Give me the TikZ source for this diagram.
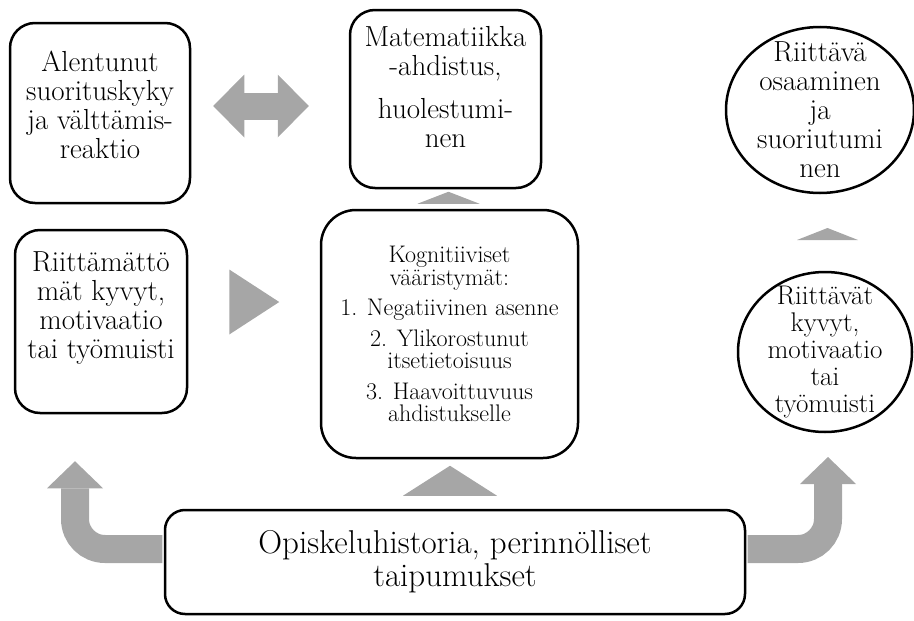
\documentclass[tikz,border=0pt]{standalone}
\usetikzlibrary{arrows.meta,calc}
\definecolor{arrowgray}{RGB}{166,166,166}
\begin{document}
\begin{tikzpicture}[
	x=1pt, y=-1pt,
	every node/.style={align=center, inner sep=0pt, font=\fontsize{29}{29}\selectfont},
	box/.style={draw=black, line width=2.5pt, rounded corners=25pt},
	oval/.style={draw=black, line width=2.5pt},
	fat/.style={draw=arrowgray, line width=28pt, rounded corners=30pt},
	head/.style={fill=arrowgray},
	>={Triangle[width=56pt, length=27pt, line width=0pt]},
]
\useasboundingbox (0,0) rectangle (914,621);

% boxes, top row (trailing empty line lifts the text like in the original)
\node[box, minimum width=180pt, minimum height=180pt] (alentunut) at (100,113)
	{Alentunut\\suorituskyky\\ja välttämis-\\reaktio\\[-12pt]\mbox{}};
\node[box, minimum width=191pt, minimum height=178pt] (matematiikka) at (445.5,99)
	{Matematiikka\\-ahdistus,\\[14pt]huolestumi-\\nen\\[-5pt]\mbox{}};
\node (osaaminen) at (820,110) {Riittävä\\osaaminen\\ja\\suoriutumi\\nen};
\draw[oval] (osaaminen.center) ellipse [x radius=94, y radius=83];

% boxes, middle row
\node[box, minimum width=172pt, minimum height=183pt] (riittamaton) at (101,321.5)
	{Riittämättö\\mät kyvyt,\\motivaatio\\tai työmuisti\\[3pt]\mbox{}};
\node[box, rounded corners=35pt, minimum width=257pt, minimum height=248pt,
	font=\fontsize{24}{22.5}\selectfont] (kognitiiviset) at (449.5,334)
	{Kognitiiviset\\vääristymät:\\[8pt]1. Negatiivinen asenne\\[8pt]2. Ylikorostunut\\itsetietoisuus\\[8pt]3. Haavoittuvuus\\ahdistukselle};
\node[font=\fontsize{27}{27}\selectfont] (kyvyt) at (825,352) {Riittävät\\kyvyt,\\motivaatio\\tai\\työmuisti};
\draw[oval] (kyvyt.center) ellipse [x radius=87, y radius=80];

% bottom
\node[box, rounded corners=20pt, minimum width=580pt, minimum height=104pt,
	font=\fontsize{33}{33}\selectfont] (opiskelu) at (455,562)
	{Opiskeluhistoria, perinnölliset\\taipumukset};

% arrows
\draw[fat, line width=27pt, {<[width=63pt, length=31pt]}-{>[width=63pt, length=31pt]}]
	($(alentunut.east)+(22,-7)$) -- ($(matematiikka.west |- alentunut.east)+(-40,-7)$);
\fill[head] ($(riittamaton.east)+(41,-52)$) -- ++(0,65) -- ++(50,-32.5) -- cycle;
\fill[head] ($(kognitiiviset.north)+(-32,-5)$) -- ++(62,0) -- ++(-31,-12) -- cycle;
\fill[head] ($(kyvyt)+(-28,-112)$) -- ++(61,0) -- ++(-30.5,-12) -- cycle;
\fill[head] ($(opiskelu.north)+(-52,-13)$) -- ++(94,0) -- ++(-47,-30) -- cycle;
\draw[fat, ->] ($(opiskelu.west)+(-1.3,-13)$) -| ($(riittamaton.south)+(-26,47)$);
\draw[fat, ->] ($(opiskelu.east)+(1.3,-13)$) -| ($(kyvyt)+(3,105)$);
\end{tikzpicture}
\end{document}
